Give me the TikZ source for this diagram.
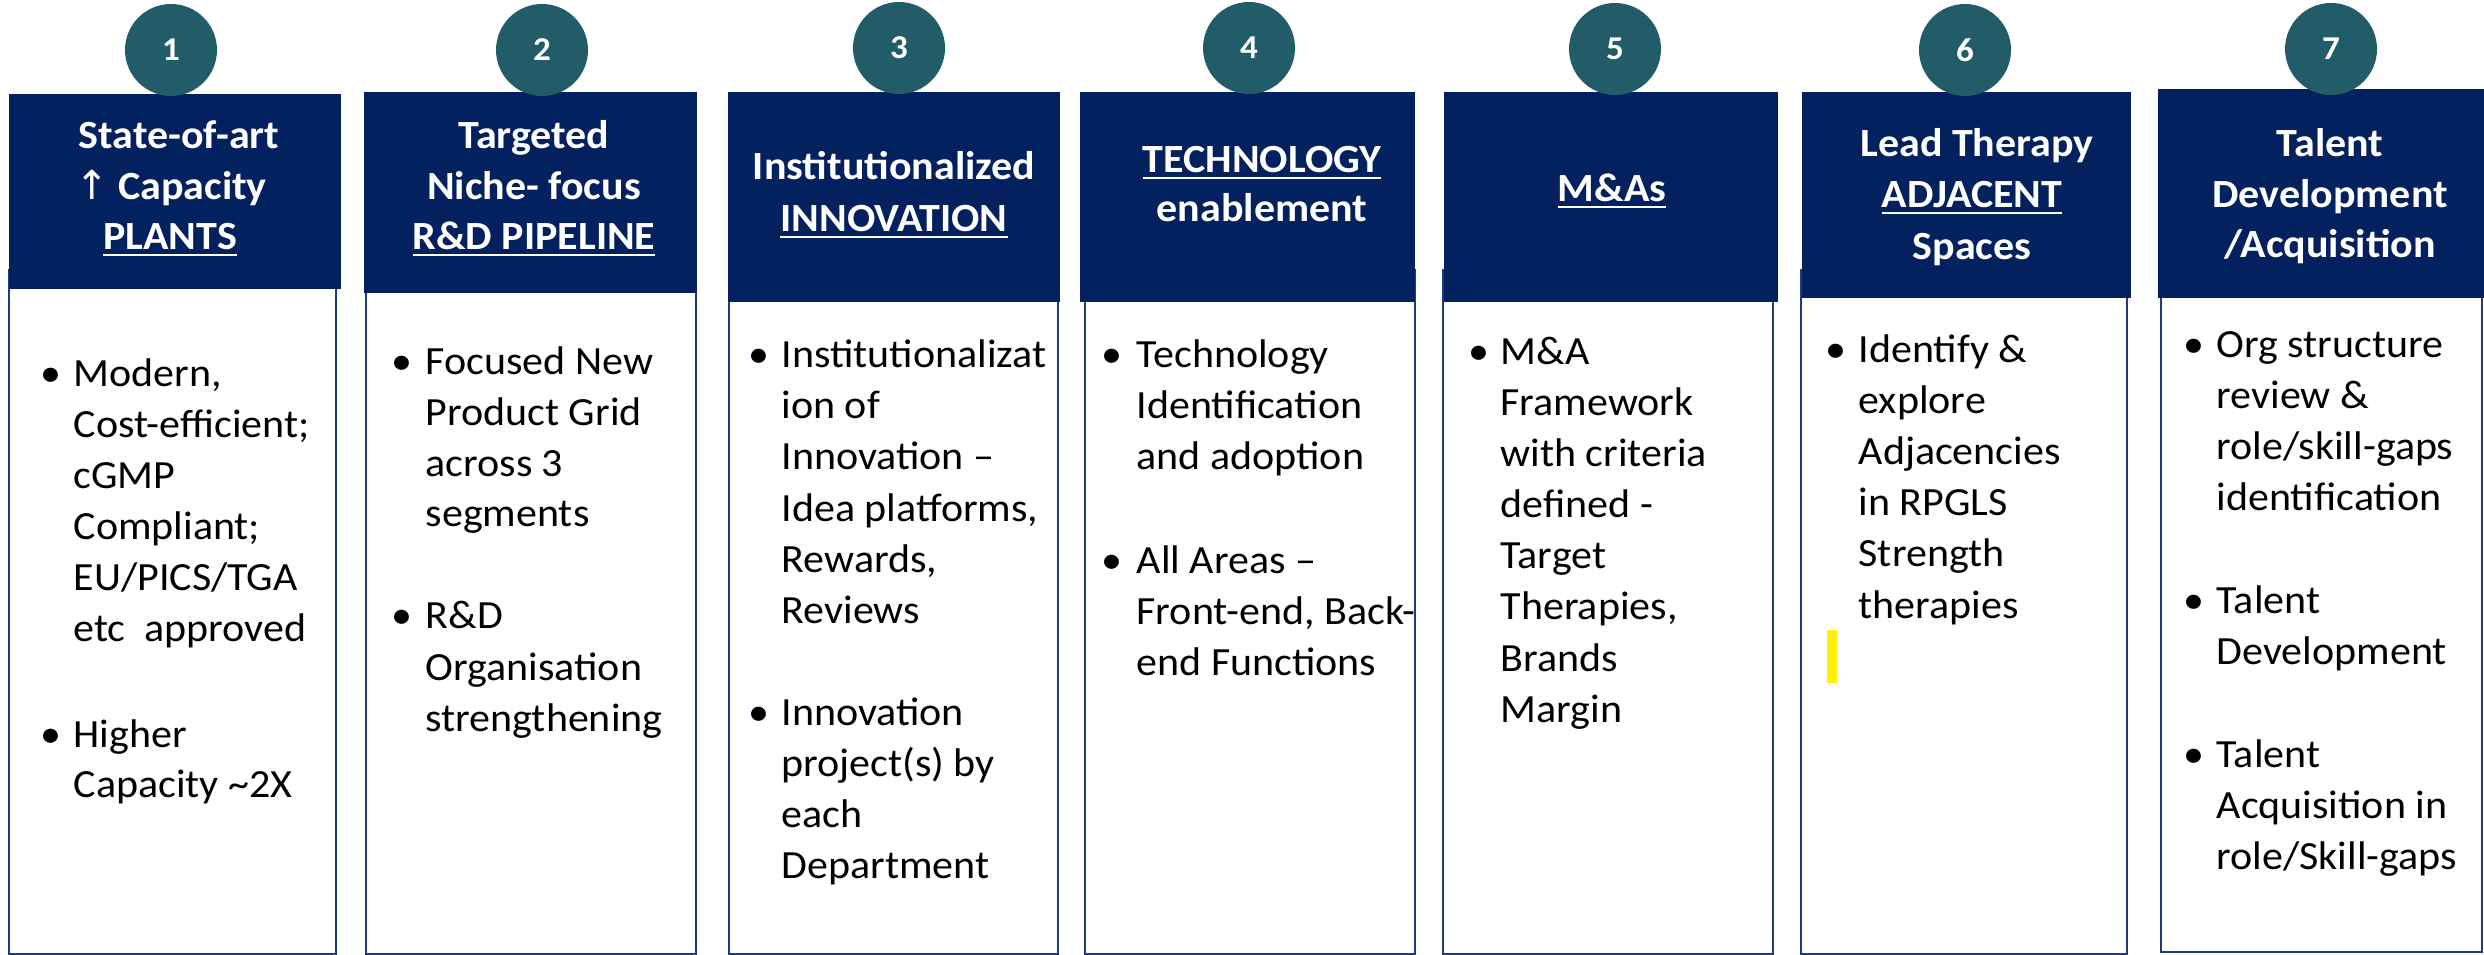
\documentclass[tikz,border=0pt]{standalone}
\usepackage{fontspec}
\setmainfont{Carlito}[FakeStretch=1.05]
\newfontfamily\arrowfont{DejaVu Sans}
\definecolor{hnavy}{HTML}{03205F}
\definecolor{bnavy}{HTML}{1F3A80}
\definecolor{cteal}{HTML}{235C69}
\newcommand{\bodyfont}{\fontsize{12}{15.2}\selectfont}
\newcommand{\hdrfont}{\fontsize{12}{15.2}\selectfont\bfseries}
\tikzset{
  hdrbox/.style={fill=hnavy, draw=none},
  bodybox/.style={draw=bnavy, line width=0.6pt, fill=white},
  numc/.style={circle, fill=cteal, text=white, minimum size=27.6pt, inner sep=0pt, font=\fontsize{10}{12}\selectfont\bfseries},
  htxt/.style={anchor=base, inner sep=0pt, text=white, font=\hdrfont},
  btxt/.style={anchor=base west, inner sep=0pt, text=black, font=\bodyfont},
  bul/.style={anchor=base west, inner sep=0pt, text=black, font=\bodyfont}
}
\begin{document}
\begin{tikzpicture}[x=0.3pt,y=-0.3pt]
\useasboundingbox (0,0) rectangle (2484,955);
% body boxes
\draw[bodybox] (9,270) rectangle (336,954);
\draw[bodybox] (366,270) rectangle (696,954);
\draw[bodybox] (729,270) rectangle (1058,954);
\draw[bodybox] (1085,270) rectangle (1415,954);
\draw[bodybox] (1443,270) rectangle (1773,954);
\draw[bodybox] (1801,270) rectangle (2127,954);
\draw[bodybox] (2161,270) rectangle (2482,952);
% headers
\fill[hdrbox] (9,94) rectangle (341,289);
\fill[hdrbox] (364,92) rectangle (697,293);
\fill[hdrbox] (728,92) rectangle (1060,302);
\fill[hdrbox] (1080,92) rectangle (1415,302);
\fill[hdrbox] (1444,92) rectangle (1778,302);
\fill[hdrbox] (1802,92) rectangle (2131,298);
\fill[hdrbox] (2158,89) rectangle (2484,298);
% number circles
\node[numc] (n1) at (171,50) {1};
\node[numc] (n2) at (542,50) {2};
\node[numc] (n3) at (899,48) {3};
\node[numc] (n4) at (1249,48) {4};
\node[numc] (n5) at (1615,49) {5};
\node[numc] (n6) at (1965,50) {6};
\node[numc] (n7) at (2331,49) {7};
% header texts
\node[htxt] (h1a) at (179,149) {State-of-art};
\node[htxt] (h1b) at (171,200) {{\arrowfont\mdseries ↑} Capacity};
\node[htxt] (h1c) at (170,250) {\underline{PLANTS}};
\node[htxt] (h2a) at (534,149) {Targeted};
\node[htxt] (h2b) at (534,200) {Niche- focus};
\node[htxt] (h2c) at (534,250) {\underline{R\&D PIPELINE}};
\node[htxt] (h3a) at (894,180) {Institutionalized};
\node[htxt] (h3b) at (894,232) {\underline{INNOVATION}};
\node[htxt] (h4a) at (1262,173) {\underline{TECHNOLOGY}};
\node[htxt] (h4b) at (1262,222) {enablement};
\node[htxt] (h5a) at (1612,202) {\underline{M\&As}};
\node[htxt] (h6a) at (1977,157) {Lead Therapy};
\node[htxt] (h6b) at (1972,208) {\underline{ADJACENT}};
\node[htxt] (h6c) at (1972,260) {Spaces};
\node[htxt] (h7a) at (2330,157) {Talent};
\node[htxt] (h7b) at (2330,208) {Development};
\node[htxt] (h7c) at (2330,258) {/Acquisition};
% column 1
\node[bul] (b1a) at (40,387) {•};
\node[bul] (b1b) at (40,747) {•};
\foreach \lyy/\ltext [count=\k] in {387/{Modern,},438/{Cost-efficient;},489/{cGMP},539/{Compliant;},590/{EU/PICS/TGA},641/{etc\ \ approved},747/{Higher},797/{Capacity \textasciitilde 2X}}
  \node[btxt] (c1t\k) at (73,\lyy) {\ltext};
% column 2
\node[bul] (b2a) at (391,375) {•};
\node[bul] (b2b) at (391,629) {•};
\foreach \lyy/\ltext [count=\k] in {375/{Focused New},426/{Product Grid},477/{across 3},527/{segments},629/{R\&D},680/{Organisation},731/{strengthening}}
  \node[btxt] (c2t\k) at (425,\lyy) {\ltext};
% column 3
\node[bul] (b3a) at (748,368) {•};
\node[bul] (b3b) at (748,725) {•};
\foreach \lyy/\ltext [count=\k] in {368/{Institutionalizat},419/{ion of},470/{Innovation –},521/{Idea platforms,},572/{Rewards,},623/{Reviews},725/{Innovation},776/{project(s) by},827/{each},878/{Department}}
  \node[btxt] (c3t\k) at (781,\lyy) {\ltext};
% column 4
\node[bul] (b4a) at (1101,368) {•};
\node[bul] (b4b) at (1101,573) {•};
\foreach \lyy/\ltext [count=\k] in {368/{Technology},419/{Identification},470/{and adoption},573/{All Areas –},624/{Front-end, Back-},675/{end Functions}}
  \node[btxt] (c4t\k) at (1136,\lyy) {\ltext};
% column 5
\node[bul] (b5a) at (1468,365) {•};
\foreach \lyy/\ltext [count=\k] in {365/{M\&A},416/{Framework},467/{with criteria},518/{defined -},569/{Target},620/{Therapies,},671/{Brands},722/{Margin}}
  \node[btxt] (c5t\k) at (1500,\lyy) {\ltext};
% column 6
\node[bul] (b6a) at (1825,363) {•};
\foreach \lyy/\ltext [count=\k] in {363/{Identify \&},414/{explore},465/{Adjacencies},516/{in RPGLS},567/{Strength},618/{therapies}}
  \node[btxt] (c6t\k) at (1858,\lyy) {\ltext};
\fill[yellow] (1827,630) rectangle (1837,683);
% column 7
\node[bul] (b7a) at (2183,358) {•};
\node[bul] (b7b) at (2183,613) {•};
\node[bul] (b7c) at (2183,767) {•};
\foreach \lyy/\ltext [count=\k] in {358/{Org structure},409/{review \&},460/{role/skill-gaps},511/{identification},613/{Talent},664/{Development},767/{Talent},818/{Acquisition in},869/{role/Skill-gaps}}
  \node[btxt] (c7t\k) at (2216,\lyy) {\ltext};
\end{tikzpicture}
\end{document}
